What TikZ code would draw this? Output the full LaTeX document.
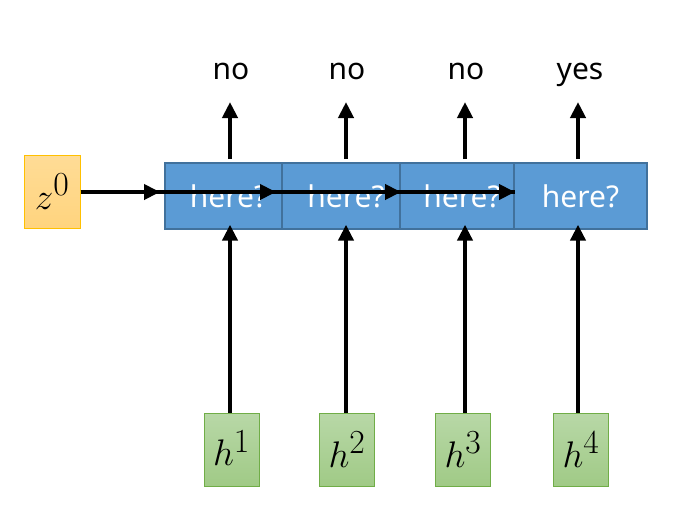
\RequirePackage{fix-cm}
\documentclass[tikz,border=0pt]{standalone}
\usepackage{fontspec}
\setsansfont{Noto Sans}
\usetikzlibrary{arrows.meta}
\definecolor{cellblue}{HTML}{5B9BD5}
\definecolor{cellborder}{HTML}{41719C}
\definecolor{orgtop}{HTML}{FFDC96}
\definecolor{orgbot}{HTML}{FFD47E}
\definecolor{orgborder}{HTML}{FFC000}
\definecolor{grtop}{HTML}{B8D8A7}
\definecolor{grbot}{HTML}{A0CA86}
\definecolor{grborder}{HTML}{70AD47}
\newcommand{\bigsup}[2]{$#1^{\scalebox{1.3}{$\scriptstyle #2$}}$}
\tikzset{
  cellbox/.style={draw=cellborder, line width=1.3pt, fill=cellblue, minimum height=66pt,
    inner sep=0pt, text=white, font=\sffamily\fontsize{30}{30}\selectfont},
  hbox/.style={draw=grborder, line width=1pt, top color=grtop, bottom color=grbot,
    minimum width=55pt, minimum height=73pt, inner sep=0pt, font=\fontsize{37}{37}\selectfont},
  zbox/.style={draw=orgborder, line width=1pt, top color=orgtop, bottom color=orgbot,
    minimum width=56pt, minimum height=73pt, inner sep=0pt, font=\fontsize{37}{37}\selectfont},
  lbl/.style={font=\sffamily\fontsize{30}{30}\selectfont, inner sep=0pt, anchor=base},
  arr/.style={line width=4.6pt, -{Triangle[length=16pt,width=15pt]}},
}
\begin{document}
\begin{tikzpicture}[x=1pt,y=-1pt]
\useasboundingbox (0,0) rectangle (693,509);
% cells
\node[cellbox, minimum width=117pt] (c1) at (223.5,196) {\hspace*{10pt}here?};
\node[cellbox, minimum width=118pt] (c2) at (341,196) {\hspace*{10pt}here?};
\node[cellbox, minimum width=114pt] (c3) at (457,196) {\hspace*{10pt}here?};
\node[cellbox, minimum width=133pt] (c4) at (580.5,196) {here?};
% z0
\node[zbox] (z) at (52,191.5) {\raisebox{-3pt}{\bigsup{z}{0}}};
% h boxes
\node[hbox] (h1) at (231.5,449.5) {\raisebox{3pt}{\bigsup{h}{1}}};
\node[hbox] (h2) at (347,449.5) {\raisebox{-5pt}{\bigsup{h}{2}}};
\node[hbox] (h3) at (463,449.5) {\raisebox{-2pt}{\bigsup{h}{3}}};
\node[hbox] (h4) at (581,449.5) {\raisebox{-1pt}{\bigsup{h}{4}}};
% labels
\node[lbl] (l1) at (231,79) {no};
\node[lbl] (l2) at (347,79) {no};
\node[lbl] (l3) at (466,79) {no};
\node[lbl] (l4) at (580,79) {yes};
% arrow anchor coordinates
\coordinate (t1) at (230,102);
\coordinate (t2) at (346,102);
\coordinate (t3) at (465,102);
\coordinate (t4) at (578,102);
% vertical arrows
\foreach \i/\x in {1/230,2/346,3/465,4/578}{
  \draw[arr] (\x,159) -- (t\i);
}
\draw[arr] (h1.north -| t1) -- ([yshift=5pt]c1.south -| t1);
\draw[arr] (h2.north -| t2) -- ([yshift=5pt]c2.south -| t2);
\draw[arr] (h3.north -| t3) -- ([yshift=5pt]c3.south -| t3);
\draw[arr] (h4.north -| t4) -- ([yshift=5pt]c4.south -| t4);
% horizontal arrow
\coordinate (e1) at (160,192);
\coordinate (e2) at (276,192);
\coordinate (e3) at (401,192);
\coordinate (e4) at (515,192);
\draw[line width=4.6pt] (z.east |- e1) -- (e4);
\draw[arr] (z.east |- e1) -- (e1);
\draw[arr] (e1) -- (e2);
\draw[arr] (e2) -- (e3);
\draw[arr] (e3) -- (e4);
\end{tikzpicture}
\end{document}
